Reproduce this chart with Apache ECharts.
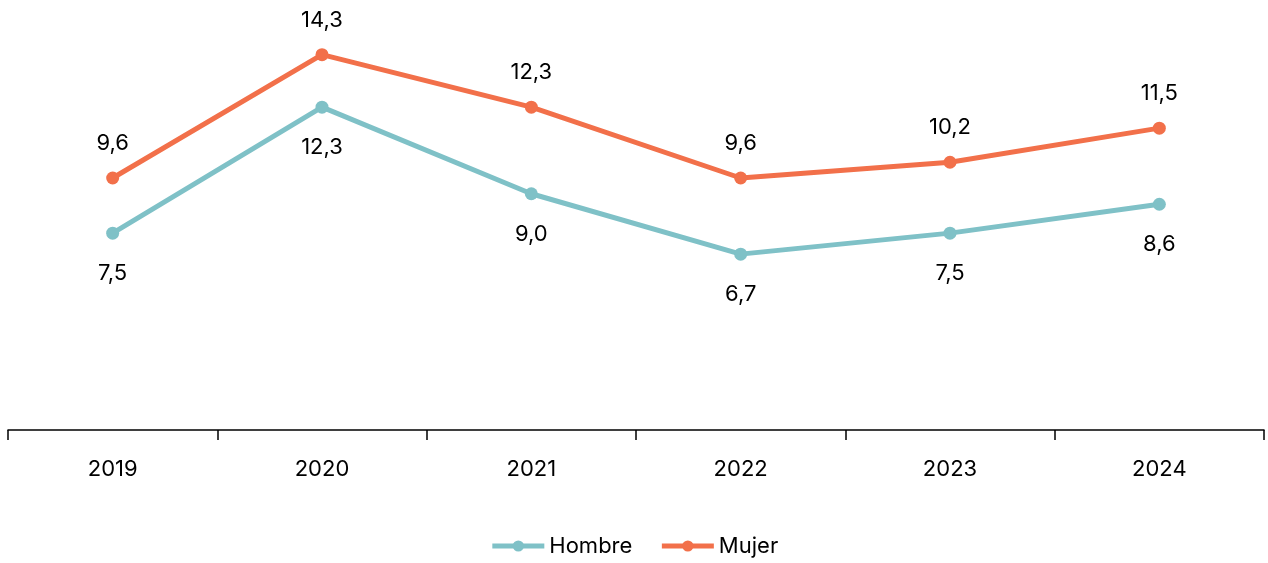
<!DOCTYPE html>
<html><head><meta charset="utf-8">
<script src="https://cdn.jsdelivr.net/npm/echarts@6/dist/echarts.min.js"></script>
<style>html,body{margin:0;padding:0;background:#fff}#c{width:1268px;height:563px}</style>
</head><body><div id="c"></div>
<script>
const categories = ['2019','2020','2021','2022','2023','2024'];
const hombre = [7.5, 12.3, 9.0, 6.7, 7.5, 8.6];
const mujer = [9.6, 14.3, 12.3, 9.6, 10.2, 11.5];
const FONT = 'Inter';
const FS = 22;
const fmt = p => p.value.toFixed(1).replace('.', ',');
const chart = echarts.init(document.getElementById('c'));
chart.setOption({
  animation: false,
  textStyle: {fontFamily: FONT},
  grid: {left: 8, right: 4, top: 10, bottom: 133},
  legend: {
    bottom: 1, left: 'center', itemWidth: 52, itemHeight: 14, itemGap: 27,
    lineStyle: {width: 5},
    textStyle: {fontSize: FS, color: '#000', fontFamily: FONT},
    data: ['Hombre', 'Mujer']
  },
  xAxis: {
    type: 'category', data: categories, boundaryGap: true,
    axisLine: {lineStyle: {color: '#000', width: 1.5}},
    axisTick: {show: true, length: 10, lineStyle: {color: '#000', width: 1.5}},
    axisLabel: {fontSize: FS, color: '#000', margin: 28, fontFamily: FONT}
  },
  yAxis: {type: 'value', min: 0, max: 16, show: false, splitLine: {show: false}},
  series: [
    {name: 'Hombre', type: 'line', data: hombre, color: '#7fc1c7',
     lineStyle: {width: 5}, symbol: 'circle', symbolSize: 13,
     label: {show: true, position: 'bottom', distance: 23, fontSize: FS, color: '#000', formatter: fmt, fontFamily: FONT}},
    {name: 'Mujer', type: 'line', data: mujer, color: '#f2704a',
     lineStyle: {width: 5}, symbol: 'circle', symbolSize: 13,
     label: {show: true, position: 'top', distance: 17, fontSize: FS, color: '#000', formatter: fmt, fontFamily: FONT}}
  ]
});
</script></body></html>
